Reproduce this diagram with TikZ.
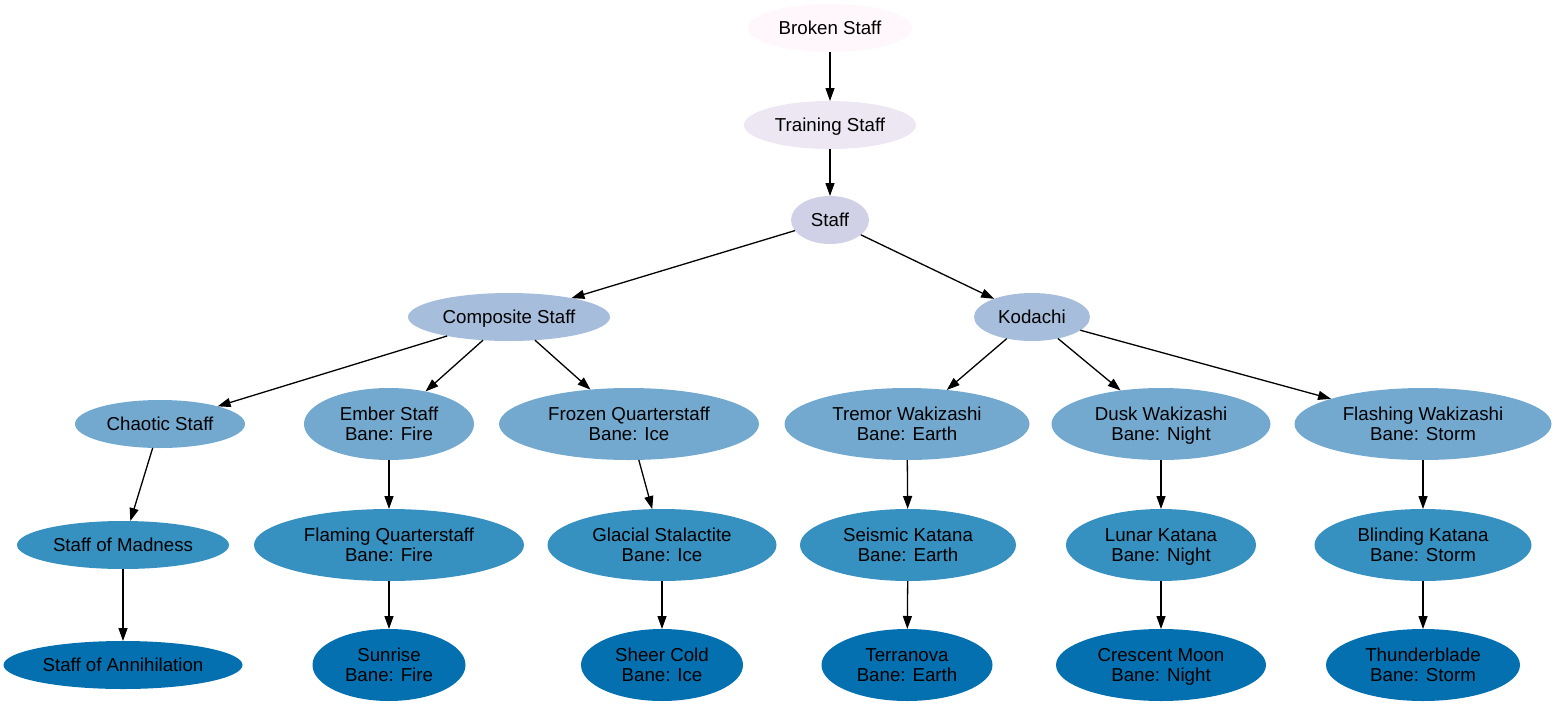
\documentclass[tikz,border=0pt]{standalone}
\usepackage{fontspec}
\setmainfont{Liberation Sans}
\usetikzlibrary{arrows.meta,shapes.geometric}
\definecolor{c1}{HTML}{FFF7FB}
\definecolor{c2}{HTML}{ECE7F2}
\definecolor{c3}{HTML}{D0D1E6}
\definecolor{c4}{HTML}{A6BDDB}
\definecolor{c5}{HTML}{74A9CF}
\definecolor{c6}{HTML}{3690C0}
\definecolor{c7}{HTML}{0570B0}
\tikzset{
  nd/.style={ellipse, draw=none, inner sep=0pt, outer sep=0pt, align=center,
    font=\fontsize{18.7}{20}\selectfont, text depth=0pt,
    execute at begin node={\rule{0pt}{13.6pt}}},
  one/.style={nd, minimum height=48pt},
  two/.style={nd, minimum height=72pt},
  edge/.style={line width=1.3pt, -{Triangle[length=13pt,width=9pt]}},
}
\begin{document}
\begin{tikzpicture}[x=1pt,y=1pt]
\useasboundingbox (0,0) rectangle (1559,-707);
\node[one, fill=c1, minimum width=164pt] (broken) at (830,-28) {Broken Staff};
\node[one, fill=c2, minimum width=172pt] (training) at (830,-125) {Training Staff};
\node[one, fill=c3, minimum width=78pt] (staff) at (830,-220) {Staff};
\node[one, fill=c4, minimum width=202pt] (composite) at (509,-317) {Composite Staff};
\node[one, fill=c4, minimum width=116pt] (kodachi) at (1032,-317) {Kodachi};
\node[one, fill=c5, minimum width=170pt] (chaotic) at (160,-424) {Chaotic Staff};
\node[two, fill=c5, minimum width=170pt] (ember) at (389,-424) {Ember Staff\\Bane: Fire};
\node[two, fill=c5, minimum width=260pt] (frozen) at (629,-424) {Frozen Quarterstaff\\Bane: Ice};
\node[two, fill=c5, minimum width=245pt] (tremor) at (907,-424) {Tremor Wakizashi\\Bane: Earth};
\node[two, fill=c5, minimum width=219pt] (dusk) at (1161,-424) {Dusk Wakizashi\\Bane: Night};
\node[two, fill=c5, minimum width=257pt] (flashing) at (1423,-424) {Flashing Wakizashi\\Bane: Storm};
\node[one, fill=c6, minimum width=212pt] (madness) at (123,-545) {Staff of Madness};
\node[two, fill=c6, minimum width=270pt] (flaming) at (389,-545) {Flaming Quarterstaff\\Bane: Fire};
\node[two, fill=c6, minimum width=229pt] (glacial) at (662,-545) {Glacial Stalactite\\Bane: Ice};
\node[two, fill=c6, minimum width=216pt] (seismic) at (908,-545) {Seismic Katana\\Bane: Earth};
\node[two, fill=c6, minimum width=190pt] (lunar) at (1161,-545) {Lunar Katana\\Bane: Night};
\node[two, fill=c6, minimum width=217pt] (blinding) at (1423,-545) {Blinding Katana\\Bane: Storm};
\node[one, fill=c7, minimum width=239pt] (annih) at (123,-665) {Staff of Annihilation};
\node[two, fill=c7, minimum width=153pt] (sunrise) at (389,-665) {Sunrise\\Bane: Fire};
\node[two, fill=c7, minimum width=162pt] (sheer) at (662,-665) {Sheer Cold\\Bane: Ice};
\node[two, fill=c7, minimum width=171pt] (terranova) at (907,-665) {Terranova\\Bane: Earth};
\node[two, fill=c7, minimum width=210pt] (crescent) at (1161,-665) {Crescent Moon\\Bane: Night};
\node[two, fill=c7, minimum width=194pt] (thunder) at (1423,-665) {Thunderblade\\Bane: Storm};
\draw[edge] (broken) -- (training);
\draw[edge] (training) -- (staff);
\draw[edge] (staff) -- (composite);
\draw[edge] (staff) -- (kodachi);
\draw[edge] (composite) -- (chaotic);
\draw[edge] (composite) -- (ember);
\draw[edge] (composite) -- (frozen);
\draw[edge] (kodachi) -- (tremor);
\draw[edge] (kodachi) -- (dusk);
\draw[edge] (kodachi) -- (flashing);
\draw[edge] (chaotic) -- (madness);
\draw[edge] (ember) -- (flaming);
\draw[edge] (frozen) -- (glacial);
\draw[edge] (tremor) -- (seismic);
\draw[edge] (dusk) -- (lunar);
\draw[edge] (flashing) -- (blinding);
\draw[edge] (madness) -- (annih);
\draw[edge] (flaming) -- (sunrise);
\draw[edge] (glacial) -- (sheer);
\draw[edge] (seismic) -- (terranova);
\draw[edge] (lunar) -- (crescent);
\draw[edge] (blinding) -- (thunder);
\end{tikzpicture}
\end{document}
